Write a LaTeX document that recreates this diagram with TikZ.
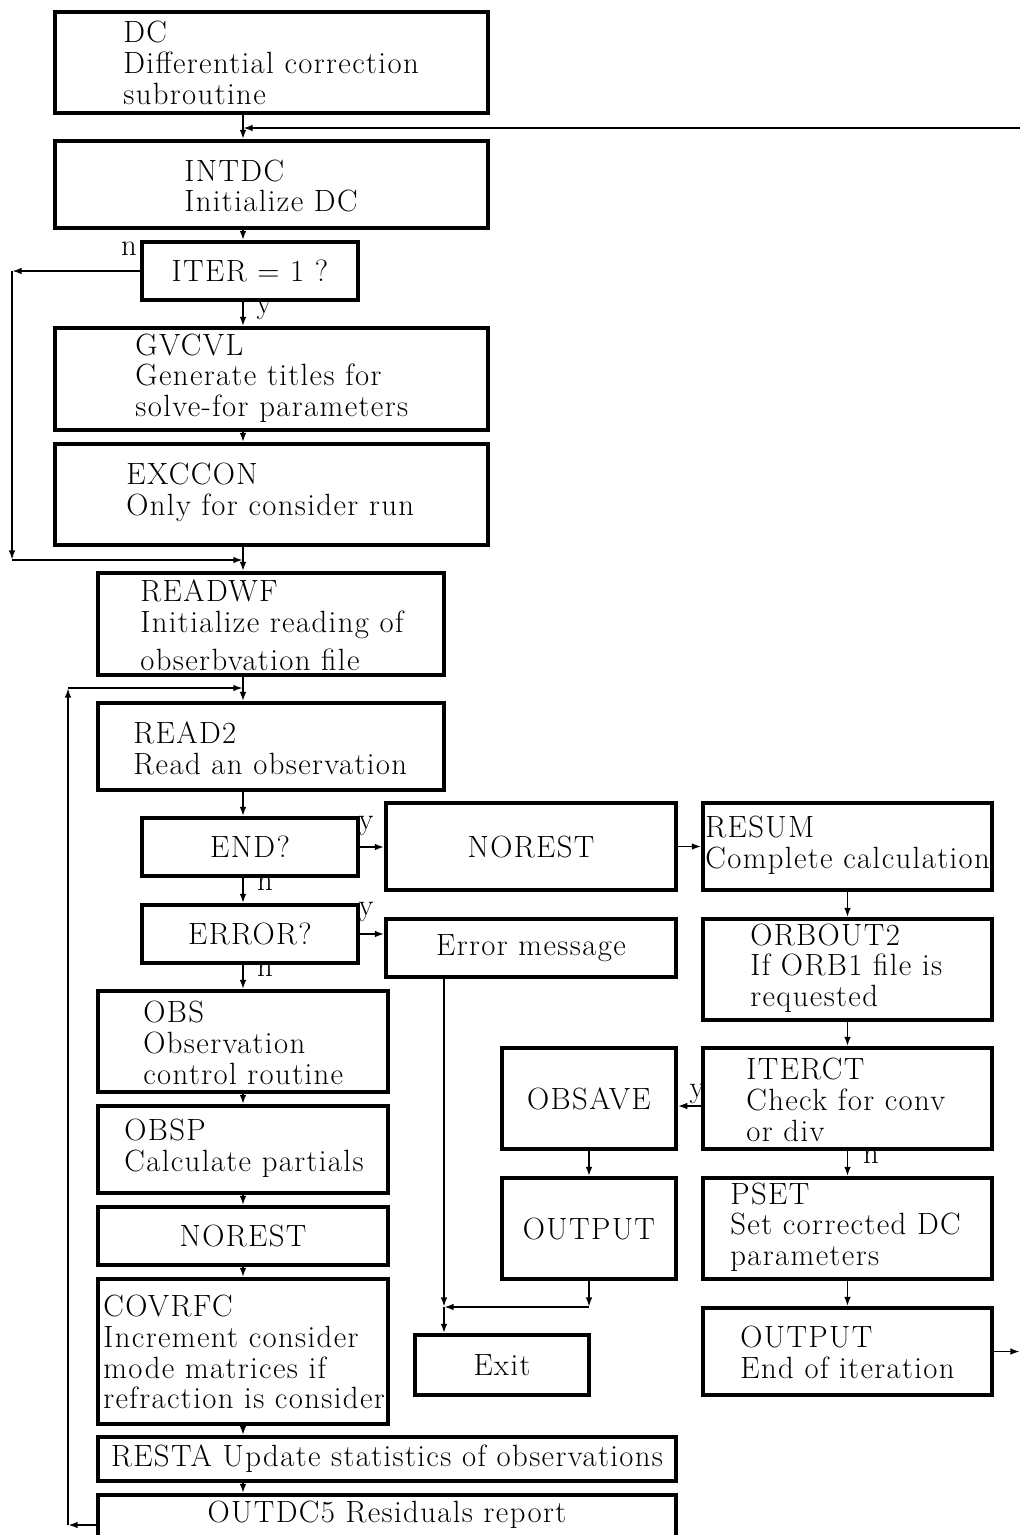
\documentclass[tikz,border=0pt]{standalone}
\usepackage{fontspec}
\setmainfont{Latin Modern Roman}[LetterSpace=4.5]
\usepackage{tikz}
\usetikzlibrary{arrows.meta}
\usetikzlibrary{fit}

\tikzset{
  box/.style={draw,line width=1.8pt,inner sep=0pt},
  txt/.style={inner sep=0pt,anchor=west,align=left,font=\fontsize{17.5pt}{17.5pt}\selectfont},
  lbl/.style={inner sep=0pt,font=\fontsize{17.5pt}{17.5pt}\selectfont},
  conn/.style={line width=1.1pt,-{Latex[length=5.5pt,width=3.8pt]}}
}

\begin{document}
\begin{tikzpicture}[x=0.02cm,y=-0.02cm]
  \useasboundingbox (0,0) rectangle (1020,1535);

  % main column
  \node[box,fit={(55,12) (488,113)}] (dc) {};
  \node[txt] (dc-t) at (123,63) {DC\\Differential correction\\subroutine};
  \node[box,fit={(55,141) (488,228)}] (intdc) {};
  \node[txt] (intdc-t) at (184,186) {INTDC\\Initialize DC};
  \node[box,fit={(142,242) (358,300)}] (iter) {};
  \node[lbl] (iter-t) at (iter) {ITER = 1 ?};
  \node[box,fit={(55,328) (488,430)}] (gvcvl) {};
  \node[txt] (gvcvl-t) at (135,378) {GVCVL\\Generate titles for\\solve-for parameters};
  \node[box,fit={(55,444) (488,545)}] (exccon) {};
  \node[txt] (exccon-t) at (126,492) {EXCCON\\Only for consider run};
  \node[box,fit={(98,573) (444,675)}] (readwf) {};
  \node[txt] (readwf-t) at (140,625) {READWF\\Initialize reading of\\[4pt]obserbvation file};
  \node[box,fit={(98,703) (444,790)}] (read2) {};
  \node[txt] (read2-t) at (133,748) {READ2\\Read an observation};
  \node[box,fit={(142,818) (358,876)}] (endq) {};
  \node[lbl] (endq-t) at (endq) {END?};
  \node[box,fit={(142,905) (358,963)}] (errq) {};
  \node[lbl] (errq-t) at (errq) {ERROR?};
  \node[box,fit={(98,991) (388,1092)}] (obs) {};
  \node[txt] (obs-t) at (143,1043) {OBS\\Observation\\control routine};
  \node[box,fit={(98,1106) (388,1193)}] (obsp) {};
  \node[txt] (obsp-t) at (124,1148) {OBSP\\Calculate partials};
  \node[box,fit={(98,1207) (388,1265)}] (norestB) {};
  \node[lbl] (norestB-t) at (norestB) {NOREST};
  \node[box,fit={(98,1279) (388,1424)}] (covrfc) {};
  \node[txt] (covrfc-t) at (103,1352) {COVRFC\\Increment consider\\mode matrices if\\refraction is consider};
  \node[box,fit={(98,1437) (676,1481)}] (resta) {};
  \node[lbl] (resta-t) at (resta) {RESTA Update statistics of observations};
  \node[box,fit={(98,1495) (676,1555)}] (outdcfive) {};
  \node[lbl] (outdcfive-t) at (387,1515) {OUTDC5 Residuals report};

  % middle column
  \node[box,fit={(386,803) (676,890)}] (norestA) {};
  \node[lbl] (norestA-t) at (norestA) {NOREST};
  \node[box,fit={(386,919) (676,977)}] (errmsg) {};
  \node[lbl] (errmsg-t) at (errmsg) {Error message};
  \node[box,fit={(502,1048) (676,1149)}] (obsave) {};
  \node[lbl] (obsave-t) at (obsave) {OBSAVE};
  \node[box,fit={(502,1178) (676,1279)}] (outputA) {};
  \node[lbl] (outputA-t) at (outputA) {OUTPUT};
  \node[box,fit={(415,1335) (589,1395)}] (exit) {};
  \node[lbl] (exit-t) at (exit) {Exit};

  % right column
  \node[box,fit={(703,803) (992,890)}] (resum) {};
  \node[txt] (resum-t) at (705,845) {RESUM\\Complete calculation};
  \node[box,fit={(703,919) (992,1020)}] (orbouttwo) {};
  \node[txt] (orbouttwo-t) at (750,968) {ORBOUT2\\If ORB1 file is\\requested};
  \node[box,fit={(703,1048) (992,1149)}] (iterct) {};
  \node[txt] (iterct-t) at (746,1100) {ITERCT\\Check for conv\\or div};
  \node[box,fit={(703,1178) (992,1279)}] (pset) {};
  \node[txt] (pset-t) at (730,1227) {PSET\\Set corrected DC\\parameters};
  \node[box,fit={(703,1308) (992,1395)}] (outputB) {};
  \node[txt] (outputB-t) at (740,1352) {OUTPUT\\End of iteration};

  % y / n labels
  \node[lbl] (iter-n) at (129,249) {n};
  \node[lbl] (iter-y) at (264,310) {y};
  \node[lbl] (endq-y) at (366,826) {y};
  \node[lbl] (endq-n) at (265,884) {n};
  \node[lbl] (errq-y) at (366,912) {y};
  \node[lbl] (errq-n) at (265,970) {n};
  \node[lbl] (iterct-y) at (697,1094) {y};
  \node[lbl] (iterct-n) at (871,1157) {n};

  \coordinate (mx) at (243,0);
  \coordinate (lx) at (12,0);
  \coordinate (rx) at (68,0);
  \coordinate (ex) at (444,0);
  \coordinate (back) at (1020,128);
  \coordinate (joinA) at (243,560);
  \coordinate (joinB) at (243,688);
  \coordinate (joinC) at (444,1307);
  \coordinate (yit) at (0,1106);
  \coordinate (ylp) at (0,1525);
  \coordinate (out) at (1020,1352);

  % spine
  \draw[conn] (dc.south -| mx) -- (intdc.north -| mx);
  \draw[conn] (back) -- (back -| mx);
  \draw[conn] (intdc.south -| mx) -- (iter.north -| mx);
  \draw[conn] (iter.south -| mx) -- (gvcvl.north -| mx);
  \draw[conn] (gvcvl.south -| mx) -- (exccon.north -| mx);
  \draw[conn] (exccon.south -| mx) -- (readwf.north -| mx);
  \draw[conn] (readwf.south -| mx) -- (read2.north -| mx);
  \draw[conn] (read2.south -| mx) -- (endq.north -| mx);
  \draw[conn] (endq.south -| mx) -- (errq.north -| mx);
  \draw[conn] (errq.south -| mx) -- (obs.north -| mx);
  \draw[conn] (obs.south -| mx) -- (obsp.north -| mx);
  \draw[conn] (obsp.south -| mx) -- (norestB.north -| mx);
  \draw[conn] (norestB.south -| mx) -- (covrfc.north -| mx);
  \draw[conn] (covrfc.south -| mx) -- (resta.north -| mx);
  \draw[conn] (resta.south -| mx) -- (outdcfive.north -| mx);

  % ITER = 1 ? no-branch
  \draw[conn] (iter.west) -- (iter.west -| lx);
  \draw[conn] (iter.west -| lx) -- (lx |- joinA);
  \draw[conn] (lx |- joinA) -- (joinA);

  % loop back to READ2
  \draw[conn] (outdcfive.west |- ylp) -- (rx |- ylp);
  \draw[conn] (rx |- ylp) -- (rx |- joinB);
  \draw[conn] (rx |- joinB) -- (joinB);

  % branches
  \draw[conn] (endq.east) -- (endq.east -| norestA.west);
  \draw[conn] (norestA.east) -- (norestA.east -| resum.west);
  \draw[conn] (errq.east) -- (errq.east -| errmsg.west);
  \draw[conn] (errmsg.south -| ex) -- (joinC);
  \draw[conn] (joinC) -- (exit.north -| ex);
  \draw[conn] (outputA.south) -- (outputA.south |- joinC);
  \draw[conn] (outputA.south |- joinC) -- (joinC);

  % right column
  \draw[conn] (resum.south) -- (orbouttwo.north);
  \draw[conn] (orbouttwo.south) -- (iterct.north);
  \draw[conn] (iterct.west |- yit) -- (obsave.east |- yit);
  \draw[conn] (obsave.south) -- (outputA.north);
  \draw[conn] (iterct.south) -- (pset.north);
  \draw[conn] (pset.south) -- (outputB.north);
  \draw[conn] (outputB.east) -- (outputB.east -| out);
\end{tikzpicture}
\end{document}
